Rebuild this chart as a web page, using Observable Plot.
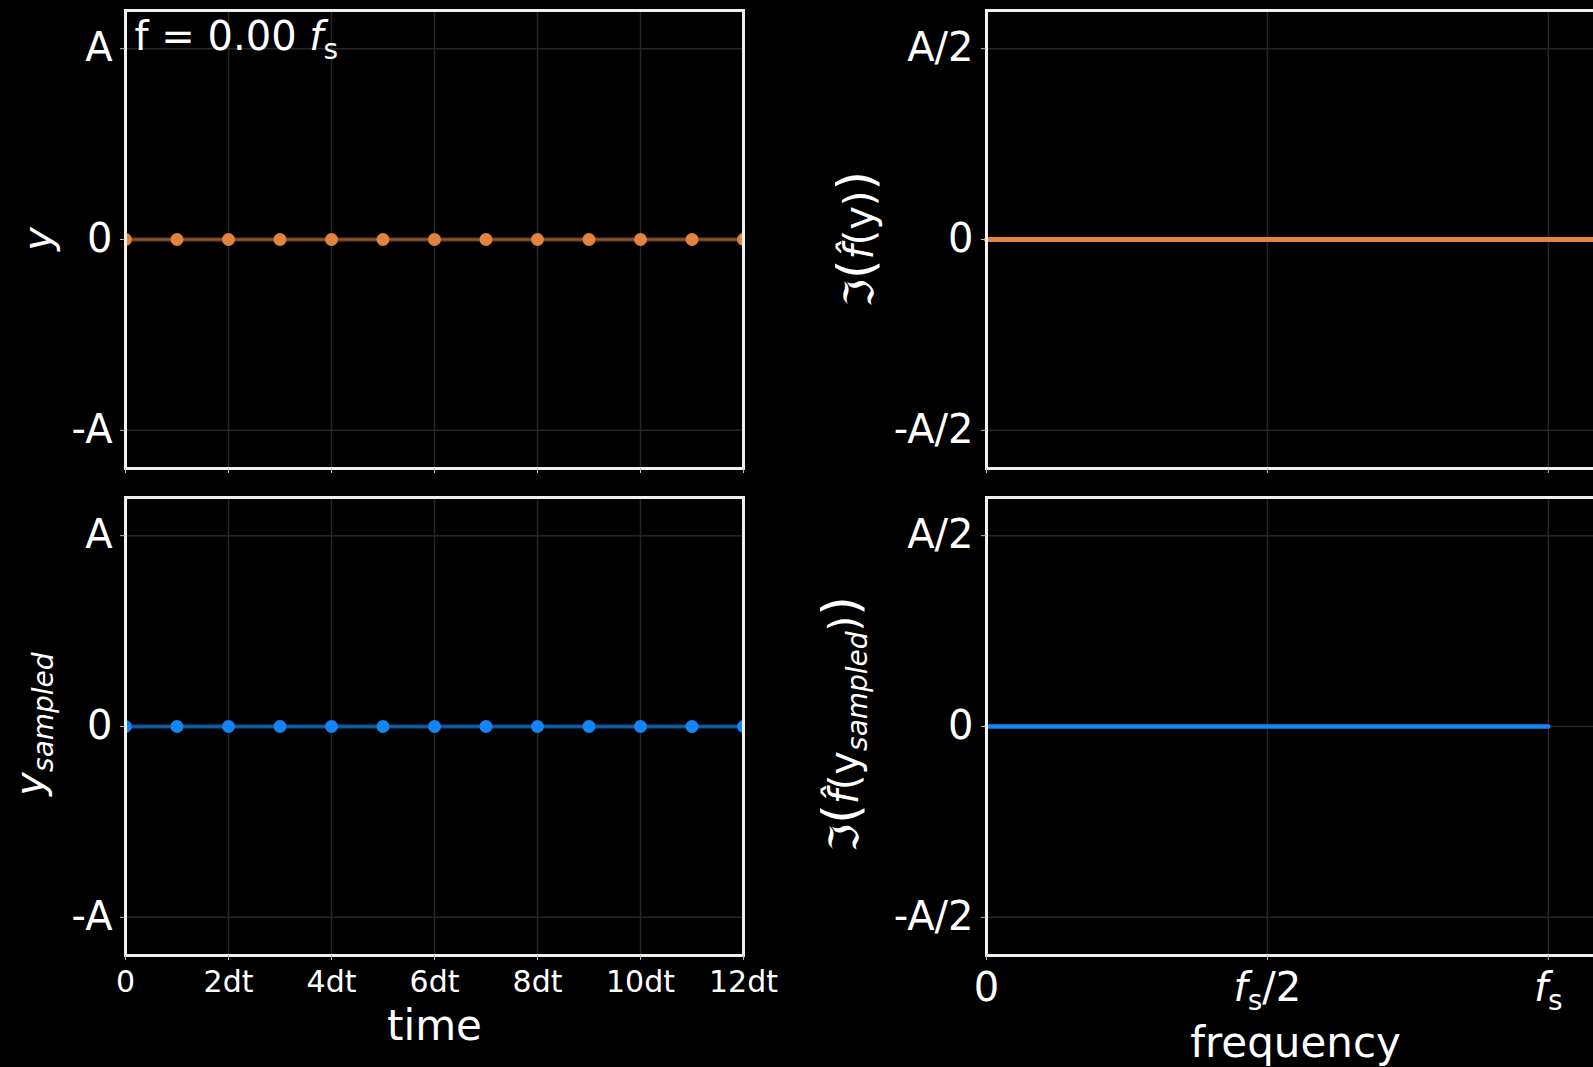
<!DOCTYPE html>
<html><head><meta charset="utf-8">
<script src="https://cdn.jsdelivr.net/npm/d3@7"></script>
<script src="https://cdn.jsdelivr.net/npm/@observablehq/plot@0.6"></script>
<style>
html,body{margin:0;padding:0;background:#000;}
#wrap{position:relative;width:1593px;height:1067px;overflow:hidden;background:#000;font-family:"DejaVu Sans",sans-serif;color:#fff;}
.panel{position:absolute;}
.lab{position:absolute;white-space:nowrap;transform:translate(-50%,-50%) rotate(-90deg);color:#fff;font-family:"DejaVu Sans",sans-serif;line-height:1;}
.lab sub{font-size:0.7em;vertical-align:-0.3em;}
.big{font-size:1.25em;}
</style></head><body><div id="wrap"></div>
<script>
// ---- data ----
const sampleTimes = [0,1,2,3,4,5,6,7,8,9,10,11,12];          // in units of dt
const sampleValues = [0,0,0,0,0,0,0,0,0,0,0,0,0];            // y(t_k), in units of A
const signalTimes = [0,12];
const signalValues = [0,0];
const freqTop = [0,1.1];                                      // in units of f_s
const specTop = [0,0];                                        // Im(FFT(y)), units of A
const freqBottom = [0,0.5,1];
const specBottom = [0,0,0];                                   // Im(FFT(y_sampled))
const timeTicks = [0,2,4,6,8,10,12];
const timeTickLabels = ["0","2dt","4dt","6dt","8dt","10dt","12dt"];
const ampTicks = [-1,0,1];
const ampTickLabels = ["-A","0","A"];
const specTicks = [-0.5,0,0.5];
const specTickLabels = ["-A/2","0","A/2"];
const freqTicks = [0,0.5,1];
const freqTickLabels = ["0","f_s/2","f_s"];
const freqLabelText = "f = 0.00 f_s";

const ORANGE = "#e2843f";
const BLUE = "#1386f5";
const GRID = "#262626";
const FONT = "DejaVu Sans";

const wrap = document.getElementById("wrap");
const NS = "http://www.w3.org/2000/svg";

function lab(ticks, labels){ return d => labels[ticks.indexOf(d)]; }

function subscriptify(t){
  const parts = t.textContent.split("f_s");
  t.textContent = "";
  let lowered = false;
  parts.forEach((p, i) => {
    if (p) {
      const s = document.createElementNS(NS, "tspan"); s.textContent = p;
      if (lowered) { s.setAttribute("dy", "-9"); lowered = false; }
      t.appendChild(s);
    }
    if (i < parts.length - 1) {
      const f = document.createElementNS(NS, "tspan"); f.textContent = "f"; f.setAttribute("font-style", "italic");
      if (lowered) { f.setAttribute("dy", "-9"); lowered = false; }
      t.appendChild(f);
      const s = document.createElementNS(NS, "tspan"); s.textContent = "s"; s.setAttribute("font-size", "28"); s.setAttribute("dy", "9"); t.appendChild(s);
      lowered = true;
    }
  });
}

function makePanel(o){
  const marks = [
    Plot.gridX(o.xticks, {stroke: GRID, strokeOpacity: 1, strokeWidth: 1.5}),
    Plot.gridY(o.yticks, {stroke: GRID, strokeOpacity: 1, strokeWidth: 1.5}),
    ...o.marks,
    Plot.frame({stroke: "#f0f0f0", strokeWidth: 3}),
    Plot.axisY(o.yticks, {tickFormat: lab(o.yticks, o.ylabels), fontSize: 40, tickSize: 5, tickPadding: 8, stroke: "#bbb", label: null}),
    Plot.axisX(o.xticks, {tickFormat: o.xlabels ? lab(o.xticks, o.xlabels) : () => "", fontSize: o.xfont || 30, tickSize: 5, tickPadding: o.xpad || 10, stroke: "#bbb", label: null})
  ];
  if (o.xtitle) marks.push(Plot.text([o.xtitle], {text: d => d, frameAnchor: "bottom", dy: o.xtitleDy, fontSize: 42, fill: "white"}));
  const svg = Plot.plot({
    width: o.width, height: o.height,
    marginLeft: o.ml, marginRight: o.mr, marginTop: o.mt, marginBottom: o.mb,
    style: {background: "black", color: "white", fontFamily: FONT, overflow: "visible"},
    x: {domain: o.xdomain}, y: {domain: o.ydomain},
    marks
  });
  svg.classList.add("panel");
  svg.style.left = o.left + "px";
  svg.style.top = o.top + "px";
  svg.style.position = "absolute";
  wrap.appendChild(svg);
  svg.querySelectorAll("text").forEach(t => {
    if (!t.textContent) t.remove();
    else if (t.textContent.includes("f_s")) subscriptify(t);
  });
  return svg;
}

const sampleData = sampleTimes.map((t, i) => ({t, v: sampleValues[i]}));
const signalData = signalTimes.map((t, i) => ({t, v: signalValues[i]}));
const specTopData = freqTop.map((f, i) => ({f, v: specTop[i]}));
const specBotData = freqBottom.map((f, i) => ({f, v: specBottom[i]}));

// top-left: y
makePanel({
  left: 0, top: 0, width: 760, height: 490, ml: 125, mr: 17, mt: 10, mb: 22,
  xdomain: [0, 12], ydomain: [-1.2, 1.2],
  xticks: timeTicks, xlabels: null, yticks: ampTicks, ylabels: ampTickLabels,
  marks: [
    Plot.line(signalData, {x: "t", y: "v", stroke: ORANGE, strokeWidth: 4, strokeOpacity: 0.5, clip: true}),
    Plot.dot(sampleData, {x: "t", y: "v", r: 6.5, fill: ORANGE, stroke: "none", clip: true}),
    Plot.text([freqLabelText], {text: d => d, frameAnchor: "top-left", lineAnchor: "top", dx: 9, dy: 11, fontSize: 40, fill: "white", textAnchor: "start"})
  ]
});

// bottom-left: y_sampled
makePanel({
  left: 0, top: 487, width: 760, height: 580, ml: 125, mr: 17, mt: 10, mb: 112,
  xdomain: [0, 12], ydomain: [-1.2, 1.2],
  xticks: timeTicks, xlabels: timeTickLabels, xfont: 30, xpad: 10, yticks: ampTicks, ylabels: ampTickLabels,
  xtitle: "time", xtitleDy: 84,
  marks: [
    Plot.line(sampleData, {x: "t", y: "v", stroke: BLUE, strokeWidth: 4, strokeOpacity: 0.6, clip: true}),
    Plot.dot(sampleData, {x: "t", y: "v", r: 6.5, fill: BLUE, stroke: "none", clip: true})
  ]
});

// top-right: Im(fft(y))
makePanel({
  left: 800, top: 0, width: 820, height: 490, ml: 186, mr: 16, mt: 10, mb: 22,
  xdomain: [0, 1.1], ydomain: [-0.6, 0.6],
  xticks: freqTicks, xlabels: null, yticks: specTicks, ylabels: specTickLabels,
  marks: [
    Plot.line(specTopData, {x: "f", y: "v", stroke: ORANGE, strokeWidth: 5})
  ]
});

// bottom-right: Im(fft(y_sampled))
makePanel({
  left: 800, top: 487, width: 820, height: 580, ml: 186, mr: 16, mt: 10, mb: 112,
  xdomain: [0, 1.1], ydomain: [-0.6, 0.6],
  xticks: freqTicks, xlabels: freqTickLabels, xfont: 40, xpad: 12, yticks: specTicks, ylabels: specTickLabels,
  xtitle: "frequency", xtitleDy: 101,
  marks: [
    Plot.line(specBotData, {x: "f", y: "v", stroke: BLUE, strokeWidth: 4.5})
  ]
});

// y-axis titles (rotated)
function ylab(html, x, y, size){
  const d = document.createElement("div");
  d.className = "lab";
  d.style.left = x + "px"; d.style.top = y + "px"; d.style.fontSize = size + "px";
  d.innerHTML = html;
  wrap.appendChild(d);
}
ylab('<i>y</i>', 38, 239, 40);
ylab('<i>y<sub>sampled</sub></i>', 34, 724, 40);
ylab('\u2111<span class="big">(</span><i>f\u0302</i>(y)<span class="big">)</span>', 856, 239, 40);
ylab('\u2111<span class="big">(</span><i>f\u0302</i>(y<sub><i>sampled</i></sub>)<span class="big">)</span>', 844, 724, 40);
</script></body></html>
